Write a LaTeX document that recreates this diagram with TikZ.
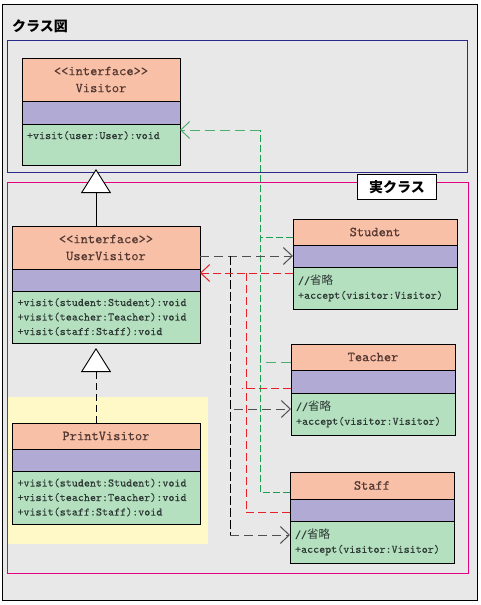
\documentclass[tikz,border=0pt]{standalone}
\usepackage{fontspec}
\newfontfamily\cjk{Noto Sans CJK JP}
\newfontfamily\mono{lmmono10-regular.otf}[FakeBold=0.3]
\usetikzlibrary{arrows.meta,calc}
\definecolor{bgc}{HTML}{E8E8E8}
\definecolor{hdrc}{HTML}{F9C0A8}
\definecolor{attc}{HTML}{B0AAD4}
\definecolor{mthc}{HTML}{B4E0C0}
\definecolor{yelc}{HTML}{FFF9C8}
\definecolor{bluc}{HTML}{2A2A8A}
\definecolor{magc}{HTML}{E4007F}
\definecolor{grnc}{HTML}{1AA050}
\definecolor{grnl}{HTML}{4DB070}
\definecolor{redc}{HTML}{E82028}
\definecolor{hdrt}{HTML}{553A33}
\definecolor{mtxt}{HTML}{2E3A35}
\definecolor{blkh}{HTML}{505050}
\begin{document}
\begin{tikzpicture}[x=1pt,y=-1pt,
  sec/.style={draw=black, line width=0.8pt, anchor=north west, inner sep=0pt, outer sep=0pt},
  hdr/.style={sec, fill=hdrc, text=hdrt, font=\mono\fontsize{13.8}{17}\selectfont, align=center},
  att/.style={sec, fill=attc},
  mth/.style={sec, fill=mthc, text=mtxt, font=\mono\fontsize{11.5}{14.5}\selectfont, align=left, inner xsep=5pt},
  jp/.style={font=\cjk\bfseries\fontsize{14}{16}\selectfont},
  barb/.style={-{Straight Barb[length=9pt,width=17pt,line width=1pt]}},
  inh/.style={line width=0.9pt, -{Triangle[open, fill=white, length=24pt, width=30pt, line width=0.9pt]}},
  grnline/.style={draw=grnc, line width=1pt, dash pattern=on 7pt off 3pt},
  redline/.style={draw=redc, line width=1pt, dash pattern=on 8pt off 4pt},
  blkv/.style={draw=black, line width=1pt, dash pattern=on 9pt off 3pt},
  blkhl/.style={draw=blkh, line width=1pt, dash pattern=on 9pt off 5pt},
]
\useasboundingbox (0,0) rectangle (480,605);
\fill[white] (0,0) rectangle (480,605);
\draw[fill=bgc, line width=0.9pt] (2,4) rectangle (477,600);
\node[jp, anchor=west, inner sep=0pt] (title) at (12,26) {クラス図};
\draw[bluc, line width=0.9pt] (7,40) rectangle (467,172);
\draw[magc, line width=0.9pt] (7,182) rectangle (468,573);
\node[jp, draw, fill=white, line width=0.8pt, minimum width=79pt, minimum height=25pt, inner sep=0pt, anchor=north west] (real) at (357,174) {実クラス};
\fill[yelc] (8,397) rectangle (208,544);

% Visitor
\node[hdr, minimum width=158pt, minimum height=43pt] (vish) at (22,58) {<<interface>>\\Visitor};
\node[att, minimum width=158pt, minimum height=23pt] (visa) at (22,101) {};
\node[mth, text width=148pt, minimum height=41pt] (vism) at (22,124) {+visit(user:User):void\\\strut};

% UserVisitor
\node[hdr, minimum width=188pt, minimum height=43pt] (uvh) at (12,226) {<<interface>>\\UserVisitor};
\node[att, minimum width=188pt, minimum height=22pt] (uva) at (12,269) {};
\node[mth, text width=177pt, inner xsep=5.5pt, minimum height=52pt] (uvm) at (12,291) {+visit(student:Student):void\\+visit(teacher:Teacher):void\\+visit(staff:Staff):void};

% PrintVisitor
\node[hdr, minimum width=188pt, minimum height=26pt] (pvh) at (12,423) {PrintVisitor};
\node[att, minimum width=188pt, minimum height=22pt] (pva) at (12,449) {};
\node[mth, text width=177pt, inner xsep=5.5pt, minimum height=53pt] (pvm) at (12,471) {+visit(student:Student):void\\+visit(teacher:Teacher):void\\+visit(staff:Staff):void};

% Student
\node[hdr, minimum width=164pt, minimum height=26pt] (sth) at (293,219) {Student};
\node[att, minimum width=164pt, minimum height=22pt] (sta) at (293,245) {};
\node[mth, text width=154pt, minimum height=42pt] (stm) at (293,267) {//{\cjk 省略}\\+accept(visitor:Visitor)};

% Teacher
\node[hdr, minimum width=164pt, minimum height=26pt] (teh) at (291,344) {Teacher};
\node[att, minimum width=164pt, minimum height=23pt] (tea) at (291,370) {};
\node[mth, text width=154pt, minimum height=42pt] (tem) at (291,393) {//{\cjk 省略}\\+accept(visitor:Visitor)};

% Staff
\node[hdr, minimum width=164pt, minimum height=27pt] (sfh) at (290,472) {Staff};
\node[att, minimum width=164pt, minimum height=22pt] (sfa) at (290,499) {};
\node[mth, text width=154pt, minimum height=42pt] (sfm) at (290,521) {//{\cjk 省略}\\+accept(visitor:Visitor)};

% inheritance
\draw[inh, shorten >=4pt] ($(uvh.north)+(-10,0)$) -- ($(vism.south)+(-5,0)$);
\draw[inh, shorten >=5pt, dash pattern=on 7pt off 4pt] ($(pvh.north)+(-10,0)$) -- ($(uvm.south)+(-10,0)$);

% named junctions
\coordinate (gtrunk) at (260,130);
\coordinate (btop) at (230,256);
\coordinate (rs) at ($(stm.north west)+(0,6)$);
\coordinate (rtrunk) at (246,273);
\coordinate (tarr) at ($(tem.west)+(0,-5)$);
\coordinate (sfarr) at ($(sfm.west)+(0,-7)$);

% green: Student/Teacher/Staff -> Visitor
\draw[grnline] ($(sfh.west)+(0,6.5)$) -| (gtrunk);
\draw[grnline, draw=grnl, dash pattern=on 10pt off 5pt, barb] (gtrunk) -- (vism.east |- gtrunk);
\draw[grnline] ($(sth.west)+(0,5)$) -- ++(-33,0);
\draw[grnline, draw=grnl, dash pattern=on 10pt off 5pt] ($(teh.west)+(0,5)$) -- ++(-31,0);

% black: UserVisitor/PrintVisitor -> Student/Teacher/Staff
\draw[blkhl, barb] (uvh.east |- sta.west) -- (sta.west);
\draw[blkv] (btop) -- (btop |- sfarr);
\draw[blkhl, barb] (btop |- sfarr) -- (sfarr);
\draw[blkhl, barb] ($(tarr -| btop)+(4,0)$) -- (tarr);
\draw[blkv] ($(pva.east)+(0,-4)$) -- ($(pva.east)+(0,-4)$ -| btop);

% red: Student/Teacher/Staff -> UserVisitor
\draw[redline, barb] (rs) -- (rs -| uva.east);
\draw[redline] (rtrunk) -- (rtrunk |- {$(sfa.west)+(0,2)$});
\draw[redline] ($(sfa.west)+(0,2)$) -- ++(-45,0);
\draw[redline] ($(tea.west)+(0,6.5)$) -- ++(-49,0);
\end{tikzpicture}
\end{document}
